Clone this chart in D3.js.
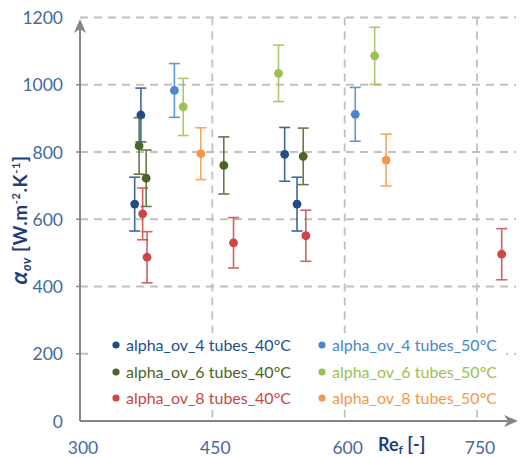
<!DOCTYPE html>
<html><head><meta charset="utf-8">
<script src="https://cdn.jsdelivr.net/npm/d3@7"></script>
<style>html,body{margin:0;padding:0;background:#fff;}svg{display:block;font-family:Lato,"Open Sans",sans-serif;}</style>
</head><body><svg id="c" width="520" height="457"></svg>
<script>
const seriesNames = ["alpha_ov_4 tubes_40°C","alpha_ov_4 tubes_50°C","alpha_ov_6 tubes_40°C","alpha_ov_6 tubes_50°C","alpha_ov_8 tubes_40°C","alpha_ov_8 tubes_50°C"];
const seriesColors = ["#1f4e87","#4a86c8","#4b6526","#9bc151","#cc4646","#f79646"];
const re_4t40 = [362, 369, 532, 546];
const a_4t40  = [645, 910, 793, 645];
const e_4t40  = [80, 80, 80, 80];
const re_4t50 = [407, 612];
const a_4t50  = [983, 912];
const e_4t50  = [80, 80];
const re_6t40 = [367, 375, 463, 553];
const a_6t40  = [818, 722, 760, 787];
const e_6t40  = [84, 84, 85, 84];
const re_6t50 = [417, 525, 634];
const a_6t50  = [934, 1034, 1086];
const e_6t50  = [85, 84, 85];
const re_8t40 = [371, 376, 474, 556, 778];
const a_8t40  = [616, 487, 530, 551, 496];
const e_8t40  = [77, 76, 75, 76, 76];
const re_8t50 = [437, 647];
const a_8t50  = [795, 776];
const e_8t50  = [77, 77];
const xTicks = [300, 450, 600, 750];
const yTicks = [0, 200, 400, 600, 800, 1000, 1200];

const seriesData = [
  [re_4t40, a_4t40, e_4t40],
  [re_4t50, a_4t50, e_4t50],
  [re_6t40, a_6t40, e_6t40],
  [re_6t50, a_6t50, e_6t50],
  [re_8t40, a_8t40, e_8t40],
  [re_8t50, a_8t50, e_8t50]
].map((s, i) => ({name: seriesNames[i], color: seriesColors[i],
  pts: s[0].map((x, j) => ({x, y: s[1][j], e: s[2][j]}))}));

const svg = d3.select("#c");
const x = d3.scaleLinear().domain([300, 750]).range([80, 477]);
const y = d3.scaleLinear().domain([0, 1200]).range([421, 17.5]);
const xEnd = 516;
const tickColor = "#46699e";
const grid = "#c0c0c0";

// gridlines
const g = svg.append("g");
g.selectAll("line.h").data(yTicks.filter(d => d > 0)).join("line")
  .attr("x1", x(300)).attr("x2", xEnd).attr("y1", d => y(d)).attr("y2", d => y(d))
  .attr("stroke", grid).attr("stroke-width", 1.8).attr("stroke-dasharray", "8,6");
g.selectAll("line.v").data(xTicks.filter(d => d > 300)).join("line")
  .attr("x1", d => x(d)).attr("x2", d => x(d)).attr("y1", y(1200)).attr("y2", y(0))
  .attr("stroke", grid).attr("stroke-width", 1.8).attr("stroke-dasharray", "8,6");

// legend background
svg.append("rect").attr("x", 92).attr("y", 333).attr("width", 414).attr("height", 77).attr("fill", "#fff");

// axes with arrows
const axc = "#858585";
svg.append("line").attr("x1", x(300)).attr("x2", xEnd - 4).attr("y1", y(0)).attr("y2", y(0)).attr("stroke", axc).attr("stroke-width", 2);
svg.append("line").attr("x1", x(300)).attr("x2", x(300)).attr("y1", y(0)).attr("y2", 24).attr("stroke", axc).attr("stroke-width", 2);
svg.append("path").attr("d", `M${xEnd+2},${y(0)} L${xEnd-12},${y(0)-6} L${xEnd-8},${y(0)} L${xEnd-12},${y(0)+6} Z`).attr("fill", axc);
svg.append("path").attr("d", `M${x(300)},19 L${x(300)-6},33 L${x(300)},29 L${x(300)+6},33 Z`).attr("fill", axc);
// small ticks
svg.selectAll("line.yt").data(yTicks.filter(d => d > 0 && d < 1200)).join("line")
  .attr("x1", x(300) - 4).attr("x2", x(300)).attr("y1", d => y(d)).attr("y2", d => y(d)).attr("stroke", axc).attr("stroke-width", 1.5);

// tick labels
svg.selectAll("text.yl").data(yTicks).join("text")
  .attr("x", 63).attr("y", d => y(d) + 6.5).attr("text-anchor", "end")
  .attr("fill", tickColor).attr("font-size", 17.5).text(d => d);
svg.selectAll("text.xl").data(xTicks).join("text")
  .attr("x", d => x(d) + 3).attr("y", 454).attr("text-anchor", "middle")
  .attr("fill", tickColor).attr("font-size", 17.5).text(d => d);

// axis titles
const titleColor = "#1f3f78";
const xt = svg.append("text").attr("x", 378).attr("y", 451).attr("fill", titleColor)
  .attr("font-size", 18).attr("font-weight", "bold");
xt.append("tspan").text("Re");
xt.append("tspan").attr("font-size", 12).attr("dy", 3).text("f");
xt.append("tspan").attr("dy", -3).text(" [-]");

const yt = svg.append("text").attr("transform", "translate(27,220) rotate(-90)")
  .attr("text-anchor", "middle").attr("fill", titleColor).attr("font-size", 19).attr("font-weight", "bold")
  .attr("letter-spacing", 0.6);
yt.append("tspan").attr("font-size", 23).attr("font-style", "italic").text("α");
yt.append("tspan").attr("font-size", 12.5).attr("dy", 3.5).attr("font-style", "italic").text("ov");
yt.append("tspan").attr("dy", -3.5).text(" [W.m");
yt.append("tspan").attr("font-size", 11).attr("dy", -7).text("-2");
yt.append("tspan").attr("dy", 7).text(".K");
yt.append("tspan").attr("font-size", 11).attr("dy", -7).text("-1");
yt.append("tspan").attr("dy", 7).text("]");

// data
const cap = 5.5;
seriesData.forEach(s => {
  const sg = svg.append("g");
  const eb = sg.selectAll("g.eb").data(s.pts).join("g").attr("stroke", s.color).attr("stroke-width", 1.6).attr("opacity", 0.85);
  eb.append("line").attr("x1", d => x(d.x)).attr("x2", d => x(d.x)).attr("y1", d => y(d.y - d.e)).attr("y2", d => y(d.y + d.e));
  eb.append("line").attr("x1", d => x(d.x) - cap).attr("x2", d => x(d.x) + cap).attr("y1", d => y(d.y + d.e)).attr("y2", d => y(d.y + d.e));
  eb.append("line").attr("x1", d => x(d.x) - cap).attr("x2", d => x(d.x) + cap).attr("y1", d => y(d.y - d.e)).attr("y2", d => y(d.y - d.e));
  sg.selectAll("circle").data(s.pts).join("circle").attr("cx", d => x(d.x)).attr("cy", d => y(d.y)).attr("r", 4.4).attr("fill", s.color);
});

// legend
const legPos = [[116, 345], [322, 345], [116, 372], [322, 372], [116, 398], [322, 398]];
seriesData.forEach((s, k) => {
  const [lx, ly] = legPos[k];
  svg.append("circle").attr("cx", lx).attr("cy", ly).attr("r", 3.6).attr("fill", s.color);
  svg.append("text").attr("x", lx + 10).attr("y", ly + 5.5).attr("fill", s.color).attr("font-size", 16).text(s.name);
});
</script></body></html>
